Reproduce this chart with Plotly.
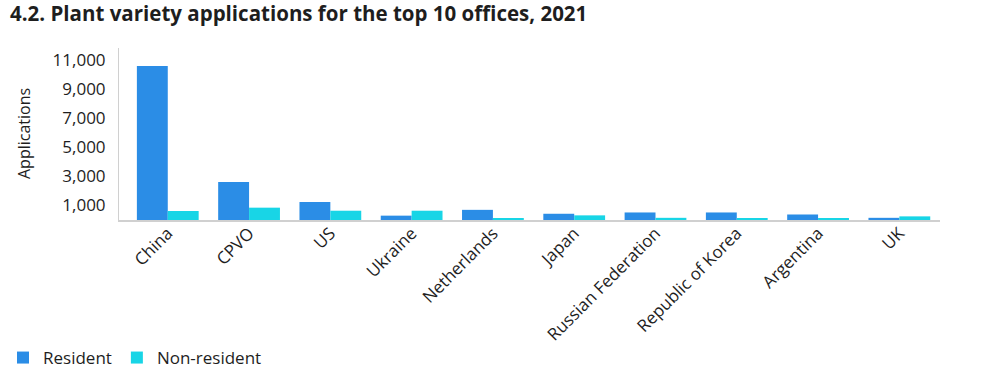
import plotly.graph_objects as go

categories = ["China", "CPVO", "US", "Ukraine", "Netherlands", "Japan",
              "Russian Federation", "Republic of Korea", "Argentina", "UK"]
resident = [10620, 2620, 1240, 300, 700, 430, 520, 520, 380, 150]
non_resident = [620, 850, 640, 640, 90, 320, 150, 100, 100, 250]
tick_vals = [1000, 3000, 5000, 7000, 9000, 11000]
tick_text = ["1,000", "3,000", "5,000", "7,000", "9,000", "11,000"]

BLUE = "#2b8de6"
CYAN = "#18d5e6"
FONT = "Open Sans"
TXT = "#1e1e1e"

fig = go.Figure()
fig.add_trace(go.Bar(x=categories, y=resident, name="Resident", marker_color=BLUE,
                     marker_line_width=0))
fig.add_trace(go.Bar(x=categories, y=non_resident, name="Non-resident", marker_color=CYAN,
                     marker_line_width=0))

W, H = 992, 385
L, R, T, B = 119, 52, 48, 165
pw, ph = W - L - R, H - T - B


def px_x(sx):
    return (sx - L) / pw


def px_y(sy):
    return (H - B - sy) / ph


fig.update_layout(
    width=W, height=H,
    margin=dict(l=L, r=R, t=T, b=B, autoexpand=False),
    paper_bgcolor="white", plot_bgcolor="white",
    barmode="group", bargap=0.24, bargroupgap=0,
    font=dict(family=FONT, color=TXT, size=17),
    title=dict(text="<b>4.2. Plant variety applications for the top 10 offices, 2021</b>",
               x=10 / W, xanchor="left", y=1 - 14 / H, yanchor="middle",
               font=dict(family=FONT, size=20.5, color=TXT)),
    showlegend=True,
    legend=dict(orientation="h", x=px_x(3), xanchor="left",
                y=px_y(358), yanchor="middle",
                font=dict(family=FONT, size=17, color=TXT),
                itemwidth=30, bgcolor="rgba(0,0,0,0)"),
    xaxis=dict(range=[-0.6, 9.5], tickangle=-45, showgrid=False, showline=True,
               linecolor="#d0d0d0", linewidth=1.5, ticks="", automargin=False,
               ticklabelstandoff=-5,
               tickfont=dict(family=FONT, size=17, color=TXT)),
    yaxis=dict(range=[0, 11860], tickvals=tick_vals, ticktext=tick_text,
               showgrid=False, zeroline=False, showline=True, linecolor="#d0d0d0",
               linewidth=1, ticks="", ticklabelstandoff=9, automargin=False,
               tickfont=dict(family=FONT, size=17, color=TXT)),
    annotations=[dict(text="Applications", textangle=-90, xref="paper", yref="paper",
                      x=px_x(24), y=px_y(134), xanchor="center",
                      yanchor="middle", showarrow=False,
                      font=dict(family=FONT, size=16, color=TXT))],
)

fig.write_html("out.html", config={"displayModeBar": False},
               post_script="document.body.style.margin='0px';")
